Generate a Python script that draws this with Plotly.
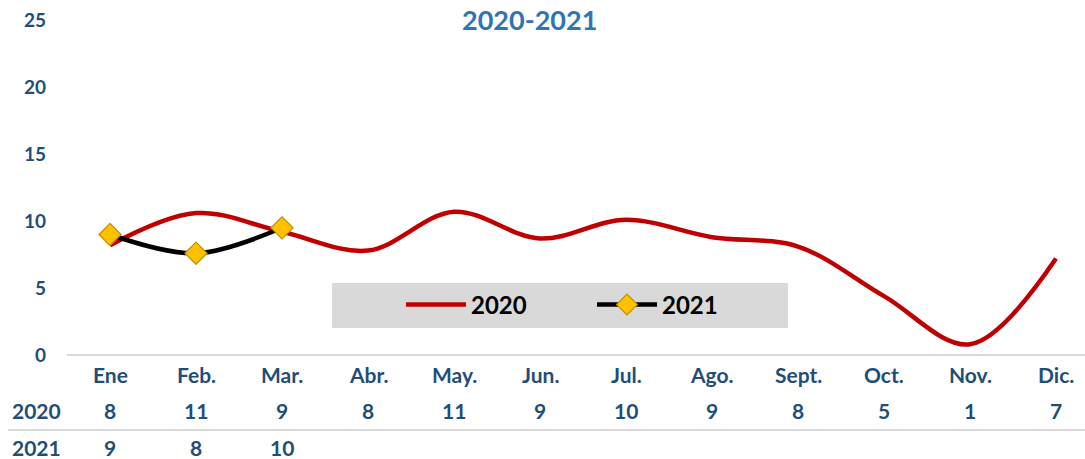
import plotly.graph_objects as go

months = ["Ene", "Feb.", "Mar.", "Abr.", "May.", "Jun.", "Jul.", "Ago.", "Sept.", "Oct.", "Nov.", "Dic."]
vals_2020 = [8.2, 10.6, 9.2, 7.8, 10.7, 8.7, 10.1, 8.8, 8.1, 4.4, 0.8, 7.2]
vals_2021 = [9.0, 7.6, 9.5]
table_2020 = ["8", "11", "9", "8", "11", "9", "10", "9", "8", "5", "1", "7"]
table_2021 = ["9", "8", "10"]
yticks = [0, 5, 10, 15, 20, 25]

OFF = 0
W, H = 1085, 459
L, R, T, B = 67, 0, 20, 104
pw = W - L - R
ph = H - T - B
DARK = "#1f4e79"
FONT = "Lato"

xs = list(range(len(months)))
fig = go.Figure()
fig.add_trace(go.Scatter(x=xs, y=vals_2020, mode="lines", name="2020",
                         line=dict(color="#c00000", width=4.5, shape="spline", smoothing=1)))
fig.add_trace(go.Scatter(x=xs[:len(vals_2021)], y=vals_2021, mode="lines+markers", name="2021",
                         line=dict(color="#000000", width=4.5, shape="spline", smoothing=1),
                         marker=dict(symbol="diamond", size=17, color="#ffc000",
                                     line=dict(color="#bf9000", width=1.2))))

def px_x(p):
    return (p - OFF - L) / pw

def px_y(p):
    return (H - B - (p - OFF)) / ph

annotations = [dict(text="<b>2020-2021</b>", x=px_x(529), y=px_y(19), xref="paper", yref="paper",
                    showarrow=False, font=dict(family=FONT, size=27, color="#2e75b6"),
                    xanchor="center", yanchor="middle")]
cell = dict(showarrow=False, xanchor="center", yanchor="middle", yref="paper", xref="x",
            font=dict(family=FONT, size=21, color=DARK))
for i, m in enumerate(months):
    annotations.append(dict(cell, text=f"<b>{m}</b>", x=i, y=px_y(374)))
    annotations.append(dict(cell, text=f"<b>{table_2020[i]}</b>", x=i, y=px_y(410)))
for i, v in enumerate(table_2021):
    annotations.append(dict(cell, text=f"<b>{v}</b>", x=i, y=px_y(447)))
for lab, yy in (("2020", 410), ("2021", 447)):
    annotations.append(dict(text=f"<b>{lab}</b>", x=px_x(10), y=px_y(yy), xref="paper", yref="paper",
                            xanchor="left", yanchor="middle", showarrow=False,
                            font=dict(family=FONT, size=21, color=DARK)))

shapes = [
    dict(type="rect", xref="paper", yref="paper", x0=px_x(332), x1=px_x(788), y0=px_y(328), y1=px_y(283),
         fillcolor="#d9d9d9", line=dict(width=0), layer="below"),
    dict(type="line", xref="paper", yref="paper", x0=px_x(67), x1=1, y0=px_y(355), y1=px_y(355),
         line=dict(color="#d9d9d9", width=2)),
    dict(type="line", xref="paper", yref="paper", x0=px_x(8), x1=1, y0=px_y(430), y1=px_y(430),
         line=dict(color="#d9d9d9", width=2)),
]

fig.update_layout(
    width=W, height=H,
    margin=dict(l=L, r=R, t=T, b=B),
    paper_bgcolor="white", plot_bgcolor="white",
    showlegend=True,
    legend=dict(orientation="h", x=px_x(401), y=px_y(305), xanchor="left", yanchor="middle",
                bgcolor="rgba(0,0,0,0)", font=dict(family=FONT, size=24, color="black", weight="bold"),
                itemwidth=60, entrywidth=116, traceorder="normal"),
    xaxis=dict(range=[-0.5, -0.5 + pw / 86.0], showticklabels=False, showgrid=False, zeroline=False,
               showline=False, ticks=""),
    yaxis=dict(range=[0, 25.02], tickvals=yticks, showgrid=False, zeroline=False, showline=False,
               ticklabeloverflow="allow",
               tickfont=dict(family=FONT, size=19, color=DARK, weight="bold"), ticklabelstandoff=20),
    annotations=annotations,
    shapes=shapes,
)
fig.write_html("out.html", config={"displayModeBar": False},
               post_script="document.body.style.margin='0';document.body.style.overflow='hidden';")
